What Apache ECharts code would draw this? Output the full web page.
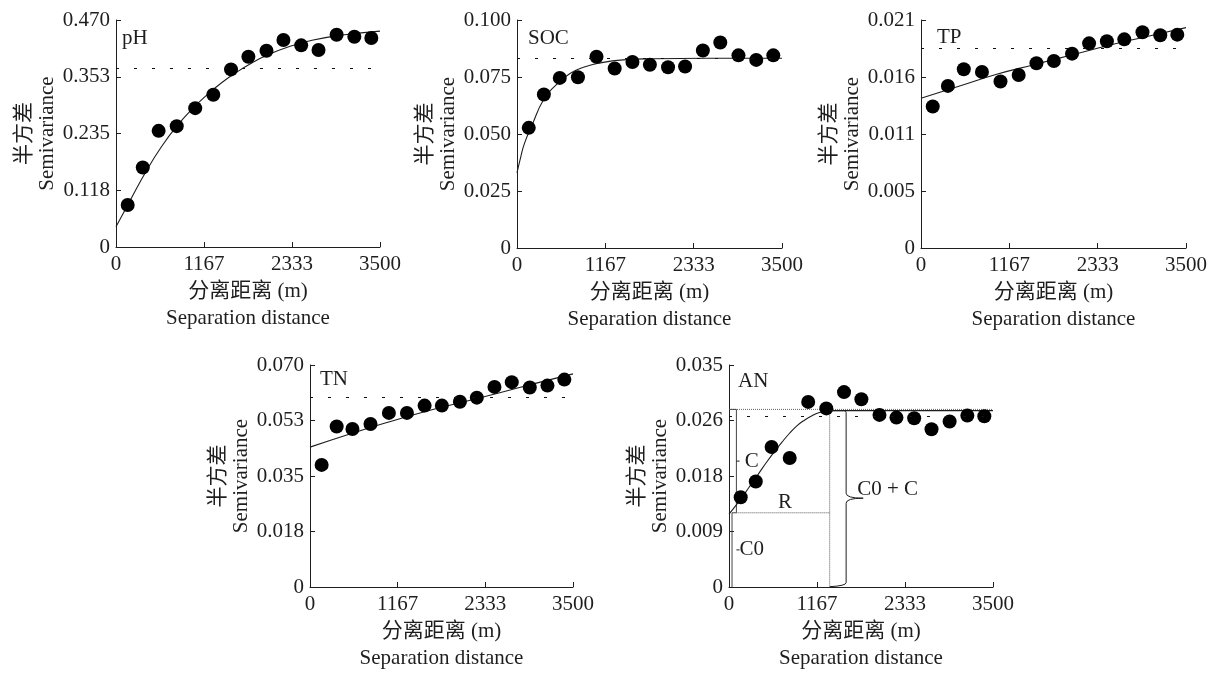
<!DOCTYPE html>
<html>
<head>
<meta charset="utf-8">
<script src="https://cdn.jsdelivr.net/npm/echarts@6/dist/echarts.min.js"></script>
<style>
  html, body { margin: 0; background: #fff; }
  #chart { width: 1214px; height: 673px; }
</style>
</head>
<body>
<div id="chart"></div>
<script>
// Lag distances (m), shared by every panel.
const lagDistance = [155, 355, 565, 805, 1050, 1290, 1525, 1755, 1995, 2220, 2455, 2685, 2925, 3160, 3385];

const phSemivariance = [0.0871, 0.1645, 0.2405, 0.2502, 0.2875, 0.3152, 0.3677, 0.394, 0.4064, 0.4285, 0.4175, 0.4078, 0.4396, 0.4354, 0.4327];
const socSemivariance = [0.0527, 0.0673, 0.0746, 0.0749, 0.0839, 0.0787, 0.0816, 0.0804, 0.0793, 0.0796, 0.0866, 0.0901, 0.0845, 0.0825, 0.0845];
const tpSemivariance = [0.01303, 0.01493, 0.01646, 0.01622, 0.01533, 0.01594, 0.01701, 0.01723, 0.01790, 0.01885, 0.01904, 0.01922, 0.01987, 0.01959, 0.01965];
const tnSemivariance = [0.0385, 0.0506, 0.0498, 0.0514, 0.0549, 0.0549, 0.0572, 0.0572, 0.0584, 0.0597, 0.0631, 0.0646, 0.0629, 0.0635, 0.0654];
const anSemivariance = [0.01415, 0.01663, 0.02208, 0.02033, 0.02918, 0.02816, 0.03073, 0.02960, 0.02713, 0.02671, 0.02661, 0.02486, 0.02610, 0.02702, 0.02692];

// Fitted model curves.
const phFitDistance = [0, 200, 400, 600, 800, 1000, 1200, 1400, 1600, 1800, 2000, 2300, 2600, 3000, 3500];
const phFit = [0.042, 0.100, 0.157, 0.207, 0.249, 0.284, 0.314, 0.340, 0.362, 0.381, 0.397, 0.415, 0.428, 0.439, 0.447];
const socFitDistance = [0, 50, 100, 200, 350, 500, 700, 900, 1100, 1400, 1800, 2500, 3500];
const socFit = [0.033, 0.040, 0.046, 0.054, 0.065, 0.071, 0.0765, 0.0795, 0.0812, 0.0825, 0.0830, 0.0832, 0.0832];
const tpFitDistance = [0, 500, 1000, 1500, 2000, 2500, 3000, 3500];
const tpFit = [0.0138, 0.0149, 0.0160, 0.0169, 0.0178, 0.0187, 0.0195, 0.0203];
const tnFitDistance = [0, 500, 1000, 1500, 2000, 2500, 3000, 3500];
const tnFit = [0.0441, 0.0480, 0.0517, 0.0551, 0.0581, 0.0611, 0.0642, 0.0672];
const anFitDistance = [0, 100, 200, 300, 400, 500, 600, 700, 800, 900, 1000, 1100, 1200, 1340, 3500];
const anFit = [0.0115, 0.0130, 0.0146, 0.0163, 0.0180, 0.0197, 0.0213, 0.0228, 0.0242, 0.0254, 0.0263, 0.0270, 0.0275, 0.0278, 0.0278];

// Sample variance (dashed lines).
const phVariance = 0.370;
const socVariance = 0.0831;
const tpVariance = 0.01836;
const tnVariance = 0.0599;
const anVariance = 0.0269;

// AN model parameters for the annotation.
const anNugget = 0.0117;
const anSill = 0.0280;
const anRange = 1335;

// Tick labels.
const xTicks = ['0', '1167', '2333', '3500'];
const phTicks = ['0', '0.118', '0.235', '0.353', '0.470'];
const socTicks = ['0', '0.025', '0.050', '0.075', '0.100'];
const tpTicks = ['0', '0.005', '0.011', '0.016', '0.021'];
const tnTicks = ['0', '0.018', '0.035', '0.053', '0.070'];
const anTicks = ['0', '0.009', '0.018', '0.026', '0.035'];

const xMax = 3500;
const font = '"Liberation Serif", "Times New Roman", "Noto Sans CJK SC", serif';
const ink = '#1e1e1e';

const panels = [
    {name: 'pH', points: phSemivariance, fitX: phFitDistance, fit: phFit, variance: phVariance, max: 0.47, ticks: phTicks},
    {name: 'SOC', points: socSemivariance, fitX: socFitDistance, fit: socFit, variance: socVariance, max: 0.1, ticks: socTicks},
    {name: 'TP', points: tpSemivariance, fitX: tpFitDistance, fit: tpFit, variance: tpVariance, max: 0.021, ticks: tpTicks},
    {name: 'TN', points: tnSemivariance, fitX: tnFitDistance, fit: tnFit, variance: tnVariance, max: 0.07, ticks: tnTicks},
    {name: 'AN', points: anSemivariance, fitX: anFitDistance, fit: anFit, variance: anVariance, max: 0.035, ticks: anTicks},
];

const layout = [
    {grid: {left: 116, top: 20, width: 264, height: 227}, title: {left: 122, top: 28}},
    {grid: {left: 517, top: 20, width: 265, height: 228}, title: {left: 528, top: 28}},
    {grid: {left: 921, top: 20, width: 265, height: 228}, title: {left: 937, top: 27}},
    {grid: {left: 310, top: 365, width: 263, height: 228}, title: {left: 320, top: 369}},
    {grid: {left: 729, top: 365, width: 264, height: 227}, title: {left: 738, top: 371}},
];

const textStyle = {fontFamily: font, fontSize: 21, color: ink};
const axisLine = {show: true, lineStyle: {color: ink, width: 1}};

const grid = [], xAxis = [], yAxis = [], title = [], series = [];

panels.forEach((p, i) => {
    grid.push(layout[i].grid);
    title.push({text: p.name, left: layout[i].title.left, top: layout[i].title.top, padding: 0,
        textStyle: {fontFamily: font, fontSize: 21, fontWeight: 'normal', color: ink}});

    xAxis.push({
        type: 'value', gridIndex: i, min: 0, max: xMax, interval: xMax / 3,
        axisLine: axisLine,
        axisTick: {show: true, inside: true, length: 5, lineStyle: {color: ink}},
        splitLine: {show: false},
        axisLabel: {...textStyle, margin: 7, formatter: (v) => xTicks[Math.round(v / (xMax / 3))]},
        name: '分离距离 (m)\nSeparation distance',
        nameLocation: 'middle', nameGap: 31,
        nameTextStyle: {...textStyle, lineHeight: 27},
    });

    const interval = p.max / 4;
    yAxis.push({
        type: 'value', gridIndex: i, min: 0, max: p.max, interval: interval,
        axisLine: axisLine,
        axisTick: {show: true, inside: true, length: 5, lineStyle: {color: ink}},
        splitLine: {show: false},
        axisLabel: {...textStyle, margin: 6, formatter: (v) => p.ticks[Math.round(v / interval)]},
        name: '半方差\nSemivariance',
        nameLocation: 'middle', nameGap: 57, nameRotate: 90,
        nameTextStyle: {...textStyle, lineHeight: 23},
    });

    series.push({
        type: 'line', xAxisIndex: i, yAxisIndex: i,
        data: p.fitX.map((d, k) => [d, p.fit[k]]),
        showSymbol: false, smooth: 0.5,
        lineStyle: {color: ink, width: 1.1},
        silent: true, z: 2,
    });

    series.push({
        type: 'scatter', xAxisIndex: i, yAxisIndex: i,
        data: lagDistance.map((d, k) => [d, p.points[k]]),
        symbolSize: 14, itemStyle: {color: '#000', opacity: 1}, z: 3,
        markLine: {
            silent: true, symbol: 'none', label: {show: false}, precision: 6,
            lineStyle: {color: '#111', width: 1, type: [3, 15]},
            data: [{yAxis: p.variance}],
        },
    });
});

// AN annotation: sill, nugget, range and brackets.
const annotation = (data, dotted, color) => ({
    type: 'line', xAxisIndex: 4, yAxisIndex: 4, data: data,
    showSymbol: false, silent: true, z: 1,
    lineStyle: {color: color || ink, width: 1, type: dotted ? [1, 1] : 'solid'},
});
const bracketC = 98, bracketC0 = 40, bracketTick = 140;
series.push(annotation([[0, anSill], [xMax, anSill]], true, '#666'));
series.push(annotation([[bracketC, anNugget], [anRange, anNugget]], true, '#555'));
series.push(annotation([[anRange, anSill], [anRange, 0]], true, '#555'));
series.push(annotation([[0, anSill], [bracketC, anSill], [bracketC, anNugget], [bracketC0, anNugget], [bracketC0, 0]], false, '#444'));
series.push(annotation([[bracketC, (anSill + anNugget) / 2], [bracketTick, (anSill + anNugget) / 2]], false));
series.push(annotation([[bracketC, anNugget / 2], [bracketTick, anNugget / 2]], false));

// Curly brace for C0 + C and the labels.
const braceX = 1553, braceTip = 1779;
series.push({
    type: 'custom', xAxisIndex: 4, yAxisIndex: 4, silent: true, z: 4,
    data: [[anRange, anSill]],
    renderItem: (params, api) => {
        const [xL, yTop] = api.coord([anRange, anSill - 0.0002]);
        const [xB, yBot] = api.coord([braceX, 0.0002]);
        const [xT, yMid] = api.coord([braceTip, anSill / 2]);
        const path = `M${xL} ${yTop} L${xB - 2} ${yTop} Q${xB} ${yTop} ${xB} ${yTop + 2}` +
            ` L${xB} ${yMid - 5} Q${xB} ${yMid} ${xT} ${yMid} Q${xB} ${yMid} ${xB} ${yMid + 5}` +
            ` L${xB} ${yBot - 3} Q${xB} ${yBot} ${xL} ${yBot + 1}`;
        const label = (text, x, y, align) => {
            const [px, py] = api.coord([x, y]);
            return {type: 'text', style: {text: text, x: px, y: py, fill: ink, font: '21px ' + font,
                align: align || 'center', verticalAlign: 'middle'}};
        };
        return {
            type: 'group',
            children: [
                {type: 'path', shape: {pathData: path}, style: {stroke: ink, fill: 'none', lineWidth: 1}},
                label('C', 302, (anSill + anNugget) / 2),
                label('C0', 302, anNugget / 2),
                label('R', 741, 0.0134),
                label('C0 + C', 1700, 0.0154, 'left'),
            ],
        };
    },
});

const chart = echarts.init(document.getElementById('chart'));
chart.setOption({
    backgroundColor: '#fff',
    animation: false,
    textStyle: {fontFamily: font},
    title: title,
    grid: grid,
    xAxis: xAxis,
    yAxis: yAxis,
    series: series,
});
</script>
</body>
</html>
